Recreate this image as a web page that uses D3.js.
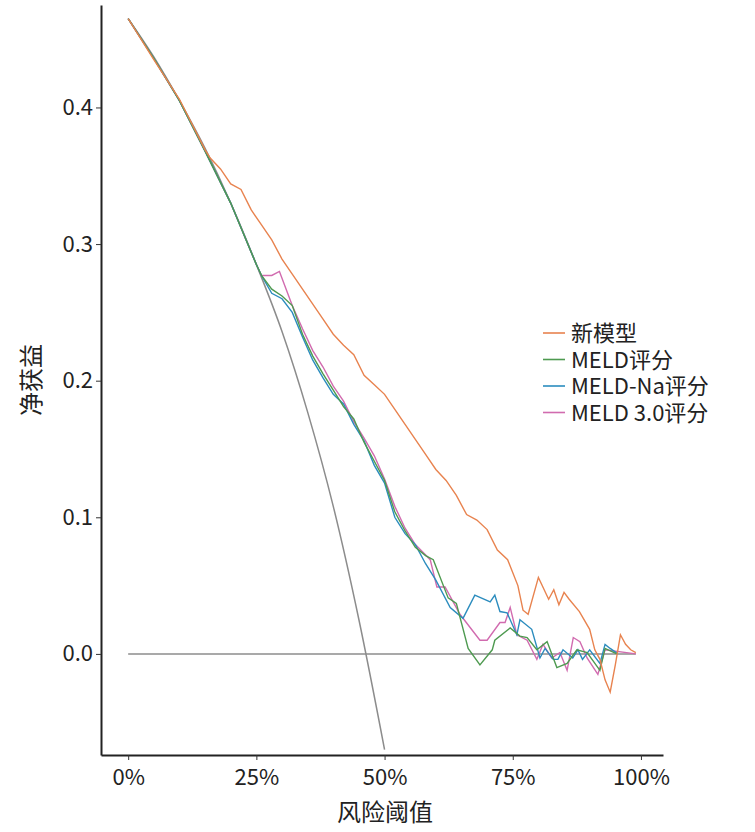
<!DOCTYPE html>
<html><head><meta charset="utf-8">
<script src="https://cdn.jsdelivr.net/npm/d3@7"></script>
<style>body{margin:0;background:#fff}text{font-family:"Noto Sans CJK SC","Noto Sans",sans-serif}</style>
</head><body><svg id="c" width="755" height="832"></svg>
<script>
// thresholds (%) and net benefit
var allX = [0,5,10,15,20,25,30,35,40,45,50];
var allY = [0.465,0.437,0.405,0.37,0.33,0.285,0.236,0.177,0.108,0.025,-0.07];
var noneX = [0,99];
var noneY = [0,0];

var headX = [0,5,10,15,20,25,26];
var headY = [0.465,0.436,0.405,0.368,0.33,0.285,0.277];

var newX = [0,5,10,15,16,18,20,22,24,26,28,30,32,34,36,38,40,42,44,46,48,50,52,54,56,58,60,62,64,66,68,70,72,74,76,77,78,80,82,83,84,85,86,88,90,91,92,93,94,95,96,97,98,99];
var newY = [0.465,0.435,0.406,0.369,0.363,0.355,0.344,0.34,0.325,0.314,0.303,0.289,0.278,0.267,0.256,0.245,0.234,0.226,0.219,0.204,0.197,0.19,0.179,0.168,0.157,0.146,0.135,0.127,0.116,0.102,0.098,0.091,0.076,0.069,0.05,0.032,0.029,0.056,0.04,0.047,0.036,0.045,0.04,0.031,0.018,0.003,-0.004,-0.019,-0.028,-0.008,0.014,0.007,0.003,0.001];

var meldX = [28,30,32,34,36,38,40,42,44,46,48,50,52,54,56,58,59.5,62.4,64,66.3,68.6,71,71.5,74.5,76.4,77.8,79.7,81.7,83.6,85.6,87.5,89.5,92,93,95.3];
var meldY = [0.267,0.262,0.255,0.234,0.218,0.205,0.193,0.181,0.172,0.155,0.141,0.127,0.104,0.09,0.078,0.072,0.069,0.041,0.037,0.004,-0.008,0.003,0.01,0.019,0.013,0.012,0.003,0.009,-0.01,-0.007,0.003,0.001,-0.012,0.004,0];

var naX = [28,30,32,34,36,38,40,42,44,46,48,50,52,54,56,58,60,62.8,65.3,67.6,70.6,71.5,72.5,73.9,75.8,76.4,78.7,80.3,81.3,82.9,83.8,84.8,86.7,87.7,88.6,90,92,93,94,95.5];
var naY = [0.264,0.26,0.25,0.232,0.215,0.202,0.19,0.183,0.168,0.156,0.138,0.125,0.1,0.088,0.08,0.066,0.054,0.034,0.026,0.043,0.038,0.043,0.031,0.03,0.014,0.025,0.018,-0.003,0.004,-0.004,-0.004,0.003,-0.003,0.003,-0.004,0.003,-0.007,0.007,0.004,0];

var meld3X = [28,29.5,32,34,36,38,40,42,44,46,48,50,52,54,56,58.9,60.2,61.8,64.7,68.6,70,72.5,73.5,74.5,75.8,77.8,79.7,80.9,82.6,84.2,85.6,86.8,88.1,89.5,91.6,93,99];
var meld3Y = [0.277,0.28,0.255,0.238,0.222,0.21,0.196,0.185,0.17,0.158,0.145,0.128,0.108,0.092,0.08,0.069,0.049,0.049,0.029,0.01,0.01,0.023,0.023,0.034,0.014,0.01,-0.004,0.007,-0.003,0.001,-0.012,0.012,0.009,-0.003,-0.015,0.003,0];

var labels = ["新模型","MELD评分","MELD-Na评分","MELD 3.0评分"];
var colors = ["#E8834F","#4E9A50","#2B8CBE","#D16BAF"];

var svg = d3.select("#c");
var x = d3.scaleLinear().domain([-5.3,104.3]).range([101,663]);
var y = d3.scaleLinear().domain([-0.074,0.475]).range([755,5]);

function pts(xs, ys){ return xs.map(function(v,i){ return [v, ys[i]]; }); }
var line = d3.line().x(function(d){ return x(d[0]); }).y(function(d){ return y(d[1]); });

var g = svg.append("g");
g.append("clipPath").attr("id","clip").append("rect").attr("x",101).attr("y",0).attr("width",562).attr("height",755);

var plot = g.append("g").attr("clip-path","url(#clip)");
plot.append("path").datum(pts(allX,allY)).attr("d",line.curve(d3.curveMonotoneX))
  .attr("fill","none").attr("stroke","#8c8c8c").attr("stroke-width",1.5);
line.curve(d3.curveLinear);
plot.append("path").datum(pts(noneX,noneY)).attr("d",line)
  .attr("fill","none").attr("stroke","#8c8c8c").attr("stroke-width",1.5);

var series = [pts(newX,newY), pts(headX,headY).concat(pts(meldX,meldY)),
              pts(headX,headY).concat(pts(naX,naY)), pts(headX,headY).concat(pts(meld3X,meld3Y))];
[3,2,1,0].forEach(function(i){
  plot.append("path").datum(series[i]).attr("d",line)
    .attr("fill","none").attr("stroke",colors[i]).attr("stroke-width",1.4);
});

var xa = svg.append("g").attr("transform","translate(0,755)")
  .call(d3.axisBottom(x).tickValues([0,25,50,75,100]).tickFormat(function(d){ return d+"%"; }).tickSize(5).tickSizeOuter(0));
var ya = svg.append("g").attr("transform","translate(101,0)")
  .call(d3.axisLeft(y).tickValues([0,0.1,0.2,0.3,0.4]).tickFormat(d3.format(".1f")).tickSize(5).tickSizeOuter(0));
[xa,ya].forEach(function(a){
  a.select(".domain").attr("stroke","#222").attr("stroke-width",2);
  a.selectAll(".tick line").attr("stroke","#333");
  a.selectAll("text").attr("font-size",22).attr("fill","#222").style("font-family",'"Noto Sans CJK SC",sans-serif');
});
xa.selectAll("text").attr("dy","1.0em");

svg.append("text").attr("x",385).attr("y",821).attr("text-anchor","middle").attr("font-size",24).attr("fill","#222").text("风险阈值");
svg.append("text").attr("transform","translate(40,380) rotate(-90)").attr("text-anchor","middle").attr("font-size",24).attr("fill","#222").text("净获益");

var lg = svg.append("g").attr("transform","translate(543,333)");
labels.forEach(function(t,i){
  var r = lg.append("g").attr("transform","translate(0,"+(i*26.5)+")");
  r.append("line").attr("x1",0).attr("x2",22).attr("stroke",colors[i]).attr("stroke-width",1.6);
  r.append("text").attr("x",28).attr("y",8).attr("font-size",22).attr("fill","#222").text(t);
});
</script></body></html>
